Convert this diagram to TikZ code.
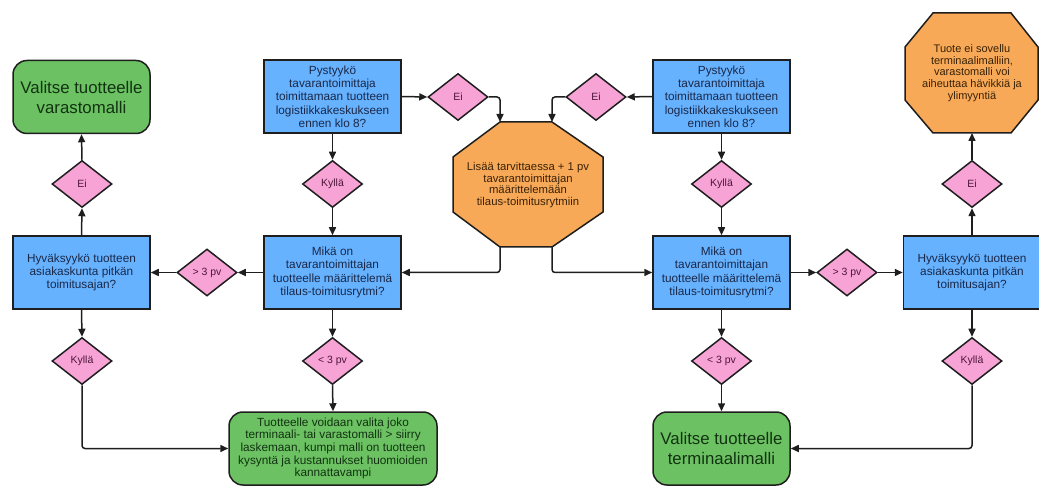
\documentclass[tikz,border=0pt]{standalone}
\usepackage{fontspec}
\setmainfont{Liberation Sans}
\usetikzlibrary{arrows.meta,shapes.geometric}
\definecolor{boxblue}{HTML}{66B2FF}
\definecolor{dpink}{HTML}{F7A3D6}
\definecolor{lgreen}{HTML}{6CC262}
\definecolor{lorange}{HTML}{F7A957}
\definecolor{edge}{HTML}{1E1E1E}
\definecolor{tblue}{HTML}{1A2848}
\definecolor{tpink}{HTML}{4D1638}
\definecolor{tgreen}{HTML}{123212}
\definecolor{torange}{HTML}{3A2208}
\begin{document}
\begin{tikzpicture}[x=1pt,y=-1pt,
 qbox/.style={draw=edge, line width=1.5pt, fill=boxblue, minimum width=137pt, minimum height=73pt, inner sep=0pt, align=center, text=tblue, font=\fontsize{11.8}{13.3}\selectfont},
 dec/.style={diamond, draw=edge, line width=1.5pt, fill=dpink, minimum width=60pt, minimum height=47pt, inner sep=0pt, text=tpink, font=\fontsize{10.5}{12}\selectfont},
 endbox/.style={draw=edge, line width=1.5pt, fill=lgreen, rounded corners=14pt, minimum height=73pt, inner sep=0pt, align=center, text=tgreen},
 octo/.style={draw=edge, line width=1.5pt, fill=lorange},
 otext/.style={align=center, text=torange, inner sep=0pt},
 arr/.style={draw=edge, line width=1.5pt, rounded corners=3pt, -{Triangle[length=8pt,width=7pt]}},
]
\useasboundingbox (0,0) rectangle (1039,486);

% left column
\node[endbox, minimum width=137pt, font=\fontsize{16.8}{20}\selectfont] (gl) at (81.5,97) {Valitse tuotteelle\\varastomalli};
\node[dec] (eil) at (82,184) {Ei};
\node[qbox] (hl) at (81.5,272.5) {Hyväksyykö tuotteen\\asiakaskunta pitkän\\toimitusajan?};
\node[dec] (kyl) at (82,361) {Kyllä};

% second column
\node[qbox] (p1) at (332.5,96.5) {Pystyykö\\tavarantoimittaja\\toimittamaan tuotteen\\logistiikkakeskukseen\\ennen klo 8?};
\node[dec] (k1) at (332.5,184) {Kyllä};
\node[qbox] (m1) at (332.5,272.5) {Mikä on\\tavarantoimittajan\\tuotteelle määrittelemä\\tilaus-toimitusrytmi?};
\node[dec] (gt1) at (207,272.5) {> 3 pv};
\node[dec] (lt1) at (332.5,361) {< 3 pv};
\node[endbox, minimum width=208pt, font=\fontsize{11.8}{12.6}\selectfont] (gc) at (333,448.5) {Tuotteelle voidaan valita joko\\terminaali- tai varastomalli > siirry\\laskemaan, kumpi malli on tuotteen\\kysyntä ja kustannukset huomioiden\\kannattavampi};
\node[dec] (e1) at (458,97) {Ei};

% central octagon
\draw[octo] (500,122) -- (552,122) -- (603,157) -- (603,212) -- (552,247) -- (500,247) -- (453,212) -- (453,157) -- cycle;
\node[otext, font=\fontsize{11.3}{11.8}\selectfont] (o1) at (528,185) {Lisää tarvittaessa + 1 pv\\tavarantoimittajan\\määrittelemään\\tilaus-toimitusrytmiin};
\coordinate (o1tl) at (500,122);
\coordinate (o1tr) at (552,122);
\coordinate (o1bl) at (500,247);
\coordinate (o1br) at (552,247);

% third column
\node[qbox] (p2) at (721.5,96.5) {Pystyykö\\tavarantoimittaja\\toimittamaan tuotteen\\logistiikkakeskukseen\\ennen klo 8?};
\node[dec] (e2) at (596,97) {Ei};
\node[dec] (k2) at (721.5,184) {Kyllä};
\node[qbox] (m2) at (721.5,272.5) {Mikä on\\tavarantoimittajan\\tuotteelle määrittelemä\\tilaus-toimitusrytmi?};
\node[dec] (gt2) at (847,272.5) {> 3 pv};
\node[dec] (lt2) at (721.5,361) {< 3 pv};
\node[endbox, minimum width=137pt, font=\fontsize{16.8}{20}\selectfont] (gr) at (721.5,448.5) {Valitse tuotteelle\\terminaalimalli};

% right column
\node[qbox] (hr) at (972,272.5) {Hyväksyykö tuotteen\\asiakaskunta pitkän\\toimitusajan?};
\node[dec] (eir) at (972,184) {Ei};
\node[dec] (kyr) at (972,361) {Kyllä};
\draw[octo] (933,13) -- (1011,13) -- (1038,47) -- (1038,100) -- (1011,133) -- (933,133) -- (905,100) -- (905,47) -- cycle;
\node[otext, font=\fontsize{11}{11.7}\selectfont] (o2) at (972,73) {Tuote ei sovellu\\terminaalimalliin,\\varastomalli voi\\aiheuttaa hävikkiä ja\\ylimyyntiä};
\coordinate (o2b) at (972,133);

% connectors
\draw[arr] (p1.east) -- (e1.west);
\draw[arr] (e1.east) -| (o1tl);
\draw[arr] (p2.west) -- (e2.east);
\draw[arr] (e2.west) -| (o1tr);
\draw[arr] (o1bl) |- (m1.east);
\draw[arr] (o1br) |- (m2.west);
\draw[arr] (p1.south) -- (k1.north);
\draw[arr] (k1.south) -- (m1.north);
\draw[arr] (m1.west) -- (gt1.east);
\draw[arr] (gt1.west) -- (hl.east);
\draw[arr] (hl.north) -- (eil.south);
\draw[arr] (eil.north) -- (gl.south);
\draw[arr] (hl.south) -- (kyl.north);
\draw[arr] (kyl.south) |- (gc.west);
\draw[arr] (m1.south) -- (lt1.north);
\draw[arr] (lt1.south) -- (gc.north);
\draw[arr] (p2.south) -- (k2.north);
\draw[arr] (k2.south) -- (m2.north);
\draw[arr] (m2.east) -- (gt2.west);
\draw[arr] (gt2.east) -- (hr.west);
\draw[arr] (hr.north) -- (eir.south);
\draw[arr] (eir.north) -- (o2b);
\draw[arr] (hr.south) -- (kyr.north);
\draw[arr] (kyr.south) |- (gr.east);
\draw[arr] (m2.south) -- (lt2.north);
\draw[arr] (lt2.south) -- (gr.north);
\end{tikzpicture}
\end{document}
